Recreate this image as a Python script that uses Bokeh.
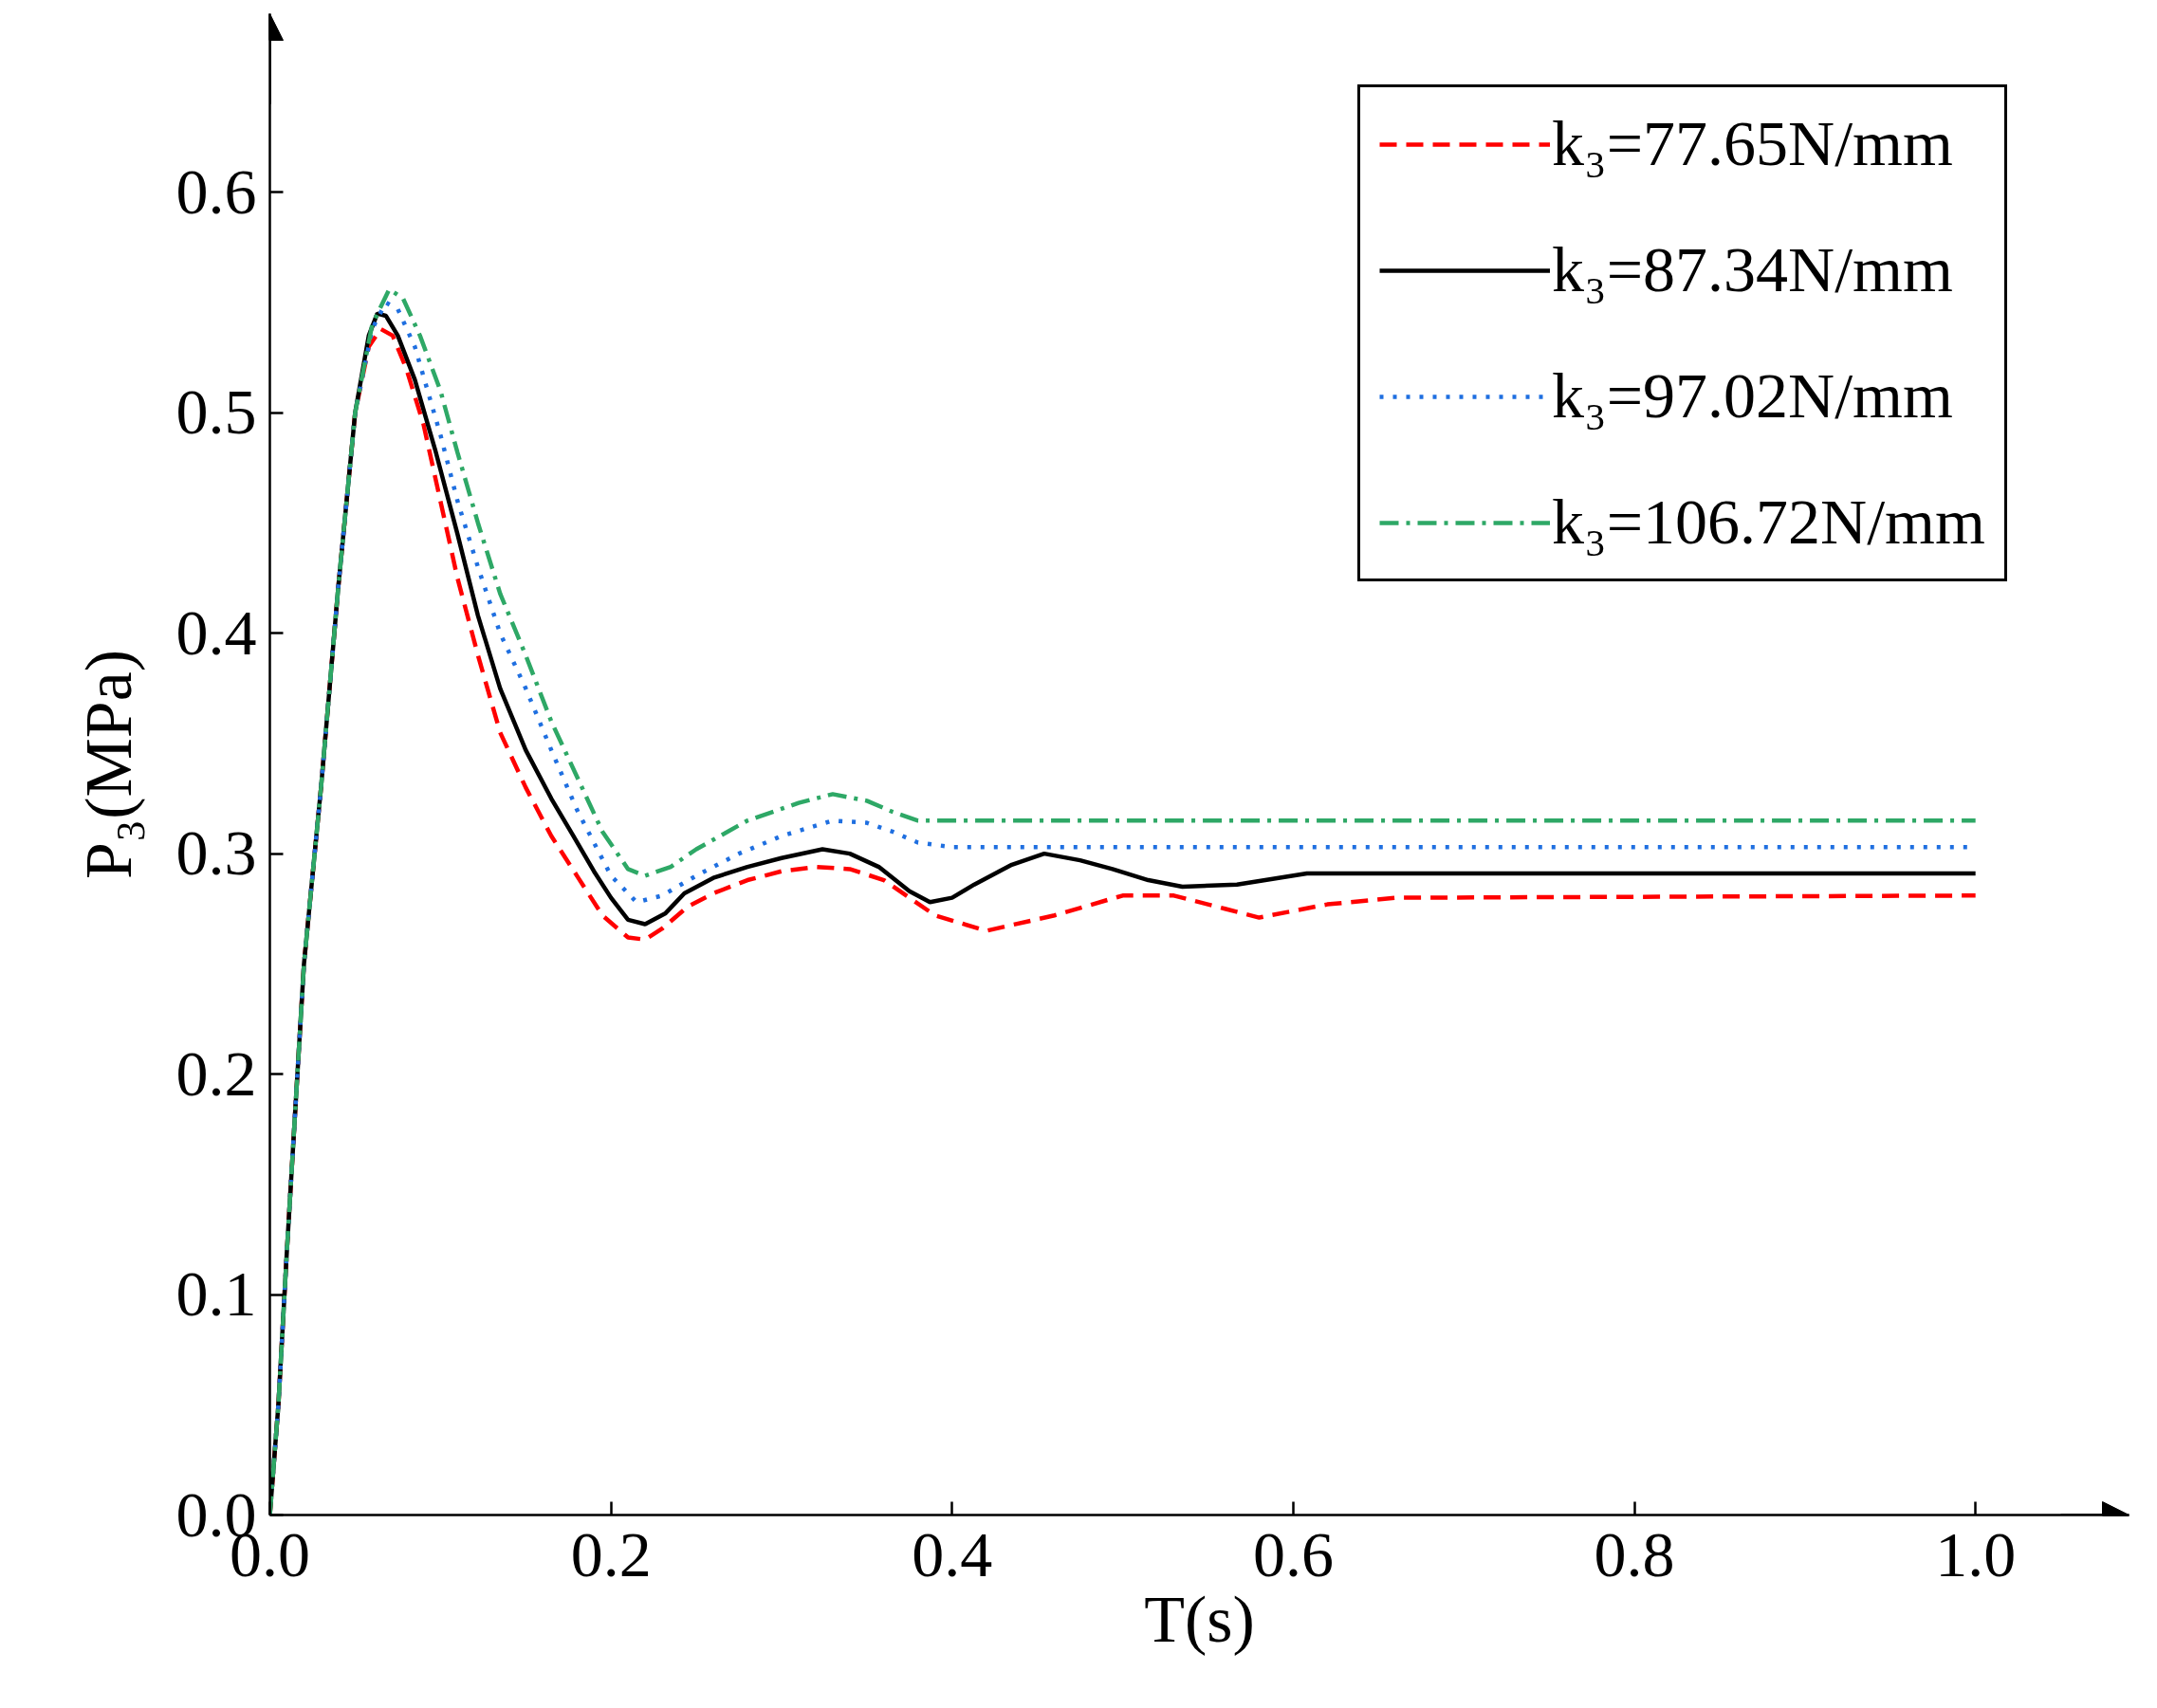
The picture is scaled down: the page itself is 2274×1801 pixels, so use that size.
from bokeh.plotting import figure
from bokeh.models import Legend, LegendItem, Arrow, NormalHead, NumeralTickFormatter, FixedTicker
from bokeh.embed import file_html
from bokeh.resources import INLINE

rise_t = [0, 0.005, 0.01, 0.02, 0.03, 0.04, 0.05]
rise_v = [0, 0.05, 0.12, 0.25, 0.33, 0.42, 0.50]

t_red = rise_t + [0.058, 0.065, 0.072, 0.08, 0.09, 0.1, 0.11, 0.122, 0.135, 0.15, 0.165, 0.18, 0.195, 0.21, 0.22, 0.23, 0.245, 0.26, 0.28, 0.3, 0.32, 0.34, 0.36, 0.39, 0.42, 0.46, 0.5, 0.53, 0.56, 0.58, 0.62, 0.66, 1.0]
v_red = rise_v + [0.53, 0.538, 0.535, 0.52, 0.495, 0.46, 0.425, 0.39, 0.355, 0.33, 0.308, 0.29, 0.272, 0.262, 0.261, 0.266, 0.276, 0.282, 0.288, 0.292, 0.294, 0.293, 0.288, 0.272, 0.265, 0.272, 0.281, 0.281, 0.275, 0.271, 0.277, 0.28, 0.281]

t_blk = rise_t + [0.058, 0.063, 0.068, 0.075, 0.085, 0.097, 0.11, 0.122, 0.135, 0.15, 0.165, 0.178, 0.19, 0.2, 0.21, 0.22, 0.232, 0.243, 0.26, 0.28, 0.3, 0.324, 0.34, 0.357, 0.375, 0.387, 0.4, 0.413, 0.435, 0.454, 0.475, 0.494, 0.515, 0.535, 0.567, 0.608, 1.0]
v_blk = rise_v + [0.535, 0.545, 0.544, 0.535, 0.515, 0.483, 0.445, 0.408, 0.375, 0.347, 0.325, 0.308, 0.292, 0.28, 0.27, 0.268, 0.273, 0.282, 0.289, 0.294, 0.298, 0.302, 0.3, 0.294, 0.283, 0.278, 0.28, 0.286, 0.295, 0.3, 0.297, 0.293, 0.288, 0.285, 0.286, 0.291, 0.291]

t_blu = rise_t + [0.06, 0.068, 0.075, 0.085, 0.1, 0.11, 0.122, 0.135, 0.15, 0.165, 0.18, 0.2, 0.215, 0.23, 0.25, 0.275, 0.3, 0.33, 0.35, 0.365, 0.38, 0.4, 1.0]
v_blu = rise_v + [0.538, 0.55, 0.547, 0.53, 0.49, 0.46, 0.43, 0.4, 0.375, 0.347, 0.32, 0.29, 0.278, 0.281, 0.29, 0.3, 0.308, 0.315, 0.314, 0.31, 0.305, 0.303, 0.303]

t_grn = rise_t + [0.06, 0.07, 0.078, 0.088, 0.1, 0.11, 0.122, 0.135, 0.15, 0.165, 0.18, 0.195, 0.21, 0.22, 0.235, 0.25, 0.28, 0.31, 0.33, 0.35, 0.365, 0.38, 1.0]
v_grn = rise_v + [0.54, 0.556, 0.552, 0.535, 0.51, 0.482, 0.45, 0.418, 0.39, 0.36, 0.335, 0.31, 0.293, 0.29, 0.294, 0.302, 0.315, 0.323, 0.327, 0.324, 0.319, 0.315, 0.315]

labels = ["k₃=77.65N/mm", "k₃=87.34N/mm", "k₃=97.02N/mm", "k₃=106.72N/mm"]
FONT = "Liberation Serif"

p = figure(width=2258, height=1785, output_backend="svg", toolbar_location=None,
           x_range=(0, 1.09), y_range=(0, 0.681),
           min_border_left=284, min_border_right=14, min_border_top=14, min_border_bottom=188)
p.outline_line_color = None
p.grid.visible = False
p.background_fill_color = "white"

r1 = p.line(t_red, v_red, line_color="#ff0000", line_width=4.5, line_dash="18 10")
r2 = p.line(t_blk, v_blk, line_color="black", line_width=4.5)
r3 = p.line(t_blu, v_blu, line_color="#1f6fe0", line_width=4.5, line_dash="4 10")
r4 = p.line(t_grn, v_grn, line_color="#2ea866", line_width=4.5, line_dash="20 8 4 8")

for ax in (p.xaxis, p.yaxis):
    ax.axis_line_width = 2.5
    ax.axis_line_color = "black"
    ax.major_tick_in = 14
    ax.major_tick_out = 0
    ax.major_tick_line_width = 2.5
    ax.minor_tick_line_color = None
    ax.major_label_text_font = FONT
    ax.major_label_text_font_size = "68px"
    ax.major_label_text_color = "black"
    ax.axis_label_text_font = FONT
    ax.axis_label_text_font_size = "70px"
    ax.axis_label_text_font_style = "normal"
    ax.axis_label_text_color = "black"
    ax.formatter = NumeralTickFormatter(format="0.0")
p.xaxis.ticker = FixedTicker(ticks=[0, 0.2, 0.4, 0.6, 0.8, 1.0])
p.yaxis.ticker = FixedTicker(ticks=[0, 0.1, 0.2, 0.3, 0.4, 0.5, 0.6])
p.xaxis.axis_label = "T(s)"
p.yaxis.axis_label = "P₃(MPa)"
p.xaxis.major_label_standoff = 20
p.yaxis.major_label_standoff = 14
p.xaxis.axis_label_standoff = 4
p.yaxis.axis_label_standoff = 30

p.add_layout(Arrow(end=NormalHead(size=28, fill_color="black", line_color="black"),
                   x_start=1.05, y_start=0, x_end=1.09, y_end=0, line_width=2.5))
p.add_layout(Arrow(end=NormalHead(size=28, fill_color="black", line_color="black"),
                   x_start=0, y_start=0.64, x_end=0, y_end=0.681, line_width=2.5))

leg = Legend(items=[LegendItem(label=labels[i], renderers=[r]) for i, r in enumerate([r1, r2, r3, r4])],
             location="top_right", glyph_width=180, glyph_height=60, spacing=54,
             label_text_font=FONT, label_text_font_size="68px", label_standoff=2,
             label_text_color="black", label_height=60,
             border_line_color="black", border_line_width=3, border_line_alpha=1,
             padding=20, margin=0, background_fill_alpha=1)
leg.location = (0, 0)
p.add_layout(leg)
leg.location = "top_right"
leg.margin = 118
leg.margin = 0
leg.location = (1439 - 292, 1605 - 621)

open("out.html", "w").write(file_html(p, INLINE))
